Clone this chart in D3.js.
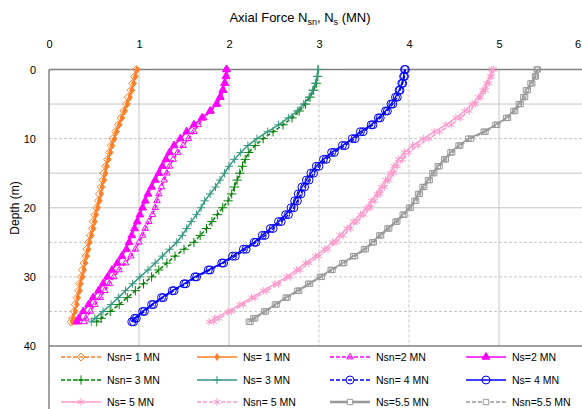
<!DOCTYPE html>
<html>
<head>
<meta charset="utf-8">
<script src="https://cdn.jsdelivr.net/npm/d3@7"></script>
<style>
  body { margin: 0; background: #fff; }
  text { font-family: "Liberation Sans", Arial, sans-serif; fill: #000; }
</style>
</head>
<body>
<div id="chart"></div>
<script>
// depth (m) of every computed point
var depths = [0,1,2,3,4,5,6,7,8,9,10,11,12,13,14,15,16,17,18,19,20,21,22,23,24,25,26,27,28,29,30,31,32,33,34,35,36,36.5];

// axial force (MN) at each depth
var nsn1 = [0.97,0.95,0.93,0.91,0.88,0.86,0.83,0.80,0.77,0.74,0.71,0.69,0.67,0.65,0.63,0.61,0.60,0.58,0.56,0.55,0.53,0.51,0.49,0.48,0.46,0.44,0.42,0.41,0.39,0.37,0.36,0.34,0.33,0.31,0.29,0.28,0.26,0.245];
var ns1  = [0.98,0.96,0.94,0.92,0.90,0.87,0.84,0.81,0.78,0.75,0.73,0.70,0.68,0.66,0.64,0.63,0.61,0.59,0.58,0.56,0.54,0.52,0.51,0.49,0.47,0.45,0.44,0.42,0.40,0.39,0.37,0.35,0.34,0.32,0.31,0.29,0.27,0.26];
var nsn2 = [1.98,1.975,1.96,1.94,1.91,1.87,1.80,1.72,1.66,1.61,1.55,1.49,1.43,1.38,1.34,1.31,1.28,1.25,1.22,1.20,1.18,1.15,1.11,1.07,1.04,1.00,0.96,0.91,0.85,0.78,0.72,0.67,0.62,0.57,0.51,0.46,0.41,0.39];
var ns2  = [1.97,1.965,1.95,1.93,1.90,1.86,1.79,1.70,1.61,1.53,1.46,1.39,1.34,1.30,1.26,1.22,1.18,1.14,1.10,1.07,1.04,1.01,0.98,0.95,0.92,0.89,0.86,0.81,0.76,0.70,0.65,0.60,0.55,0.49,0.44,0.38,0.33,0.31];
var nsn3 = [2.99,2.985,2.97,2.94,2.90,2.85,2.78,2.70,2.60,2.49,2.38,2.29,2.22,2.18,2.15,2.12,2.09,2.06,2.03,1.99,1.93,1.87,1.81,1.75,1.68,1.61,1.50,1.40,1.31,1.22,1.14,1.05,0.96,0.87,0.78,0.68,0.58,0.53];
var ns3  = [2.99,2.98,2.96,2.93,2.89,2.83,2.76,2.66,2.55,2.43,2.31,2.21,2.13,2.06,2.00,1.95,1.90,1.85,1.79,1.73,1.69,1.64,1.58,1.53,1.48,1.42,1.34,1.26,1.18,1.10,1.01,0.93,0.85,0.77,0.69,0.60,0.51,0.47];
var nsn4 = [3.96,3.95,3.93,3.90,3.87,3.82,3.76,3.68,3.60,3.49,3.40,3.29,3.17,3.08,3.00,2.94,2.89,2.84,2.80,2.76,2.72,2.66,2.58,2.49,2.40,2.30,2.19,2.07,1.94,1.79,1.64,1.52,1.39,1.27,1.16,1.06,0.97,0.94];
var ns4  = [3.95,3.94,3.92,3.89,3.85,3.80,3.74,3.66,3.58,3.46,3.37,3.26,3.14,3.05,2.97,2.91,2.86,2.81,2.77,2.73,2.69,2.63,2.55,2.46,2.37,2.28,2.16,2.04,1.92,1.77,1.62,1.50,1.37,1.25,1.14,1.04,0.95,0.92];
var ns5  = [4.92,4.90,4.86,4.82,4.77,4.70,4.62,4.52,4.41,4.28,4.16,4.04,3.95,3.88,3.83,3.79,3.74,3.69,3.64,3.58,3.53,3.46,3.38,3.31,3.23,3.15,3.06,2.96,2.85,2.75,2.64,2.51,2.38,2.25,2.12,1.99,1.84,1.78];
var nsn5 = [4.94,4.92,4.89,4.85,4.80,4.74,4.67,4.57,4.47,4.34,4.22,4.10,4.00,3.93,3.87,3.83,3.78,3.73,3.68,3.62,3.57,3.50,3.42,3.35,3.27,3.19,3.10,3.00,2.89,2.79,2.68,2.55,2.42,2.29,2.16,2.03,1.89,1.83];
var ns55  = [5.42,5.40,5.35,5.30,5.27,5.22,5.16,5.08,4.96,4.83,4.66,4.55,4.46,4.39,4.32,4.26,4.21,4.15,4.10,4.06,4.00,3.93,3.85,3.76,3.67,3.59,3.50,3.38,3.26,3.13,3.01,2.88,2.76,2.63,2.51,2.39,2.27,2.22];
var nsn55 = [5.43,5.41,5.37,5.32,5.29,5.24,5.18,5.10,4.98,4.85,4.69,4.57,4.48,4.41,4.34,4.28,4.23,4.17,4.12,4.08,4.02,3.95,3.87,3.78,3.69,3.61,3.52,3.40,3.28,3.15,3.03,2.90,2.78,2.65,2.53,2.41,2.29,2.24];

var forceTicks = [0,1,2,3,4,5];
var depthTicks = [0,10,20,30,40];

var series = [
  {name:"Nsn= 1 MN",   vals:nsn1,  color:"#ff7f27", dash:true,  sym:d3.symbolDiamond2,  size:40, fill:false},
  {name:"Ns= 1 MN",    vals:ns1,   color:"#ff7f27", dash:false, sym:d3.symbolDiamond,   size:14, fill:true},
  {name:"Nsn=2 MN",    vals:nsn2,  color:"#ff00ff", dash:true,  sym:d3.symbolTriangle2, size:30, fill:false},
  {name:"Ns=2 MN",     vals:ns2,   color:"#ff00ff", dash:false, sym:d3.symbolTriangle,  size:26, fill:true},
  {name:"Nsn= 3 MN",   vals:nsn3,  color:"#008000", dash:true,  sym:d3.symbolPlus,      size:30, fill:false},
  {name:"Ns= 3 MN",    vals:ns3,   color:"#339980", dash:false, sym:d3.symbolPlus,      size:24, fill:false},
  {name:"Nsn= 4 MN",   vals:nsn4,  color:"#0000ff", dash:true,  sym:d3.symbolCircle,    size:50, fill:false},
  {name:"Ns= 4 MN",    vals:ns4,   color:"#0000ff", dash:false, sym:d3.symbolCircle,    size:50, fill:false},
  {name:"Ns= 5 MN",    vals:ns5,   color:"#ff99cc", dash:false, sym:d3.symbolAsterisk,  size:40, fill:false},
  {name:"Nsn= 5 MN",   vals:nsn5,  color:"#ff99cc", dash:true,  sym:d3.symbolAsterisk,  size:40, fill:false},
  {name:"Ns=5.5 MN",   vals:ns55,  color:"#999999", dash:false, sym:d3.symbolSquare2,   size:36, fill:false},
  {name:"Nsn=5.5 MN",  vals:nsn55, color:"#999999", dash:true,  sym:d3.symbolSquare2,   size:36, fill:false}
];

var w = 582, h = 409;
var svg = d3.select("#chart").append("svg").attr("width", w).attr("height", h);

var x = d3.scaleLinear().domain([0,6]).range([49,589]);
var y = d3.scaleLinear().domain([0,40]).range([69.5,346]);

// grid
var vDash = {1:false,2:false,3:true,4:true,5:false};
var hDash = {5:false,10:true,15:false,20:false,25:true,30:true,35:true};
svg.append("g").selectAll("line").data([1,2,3,4,5]).enter().append("line")
  .attr("x1", function(d){ return x(d); }).attr("x2", function(d){ return x(d); })
  .attr("y1", y(0)).attr("y2", y(40))
  .attr("stroke", "#c4c4c4").attr("stroke-width", 1)
  .attr("stroke-dasharray", function(d){ return vDash[d] ? "3,2" : null; });
svg.append("g").selectAll("line").data([5,10,15,20,25,30,35]).enter().append("line")
  .attr("x1", x(0)).attr("x2", w)
  .attr("y1", function(d){ return y(d); }).attr("y2", function(d){ return y(d); })
  .attr("stroke", "#c4c4c4").attr("stroke-width", 1)
  .attr("stroke-dasharray", function(d){ return hDash[d] ? "3,2" : null; });

// frame
svg.append("line").attr("x1", x(0)).attr("x2", w).attr("y1", y(0)).attr("y2", y(0)).attr("stroke", "#808080").attr("stroke-width", 1.5);
svg.append("line").attr("x1", x(0)).attr("x2", w).attr("y1", y(40)).attr("y2", y(40)).attr("stroke", "#808080").attr("stroke-width", 1.5);
svg.append("line").attr("x1", x(0)).attr("x2", x(0)).attr("y1", y(0)).attr("y2", h).attr("stroke", "#808080").attr("stroke-width", 1.5);

// axes
var xAxis = d3.axisTop(x).tickValues(forceTicks).tickFormat(d3.format("d")).tickSize(0).tickPadding(0);
svg.append("g").attr("transform", "translate(0,48)").call(xAxis)
  .call(function(g){ g.select(".domain").remove(); })
  .selectAll("text").style("font-size", "11px").style("font-family", "Liberation Sans, Arial, sans-serif");
// last label sits on the cut right edge
svg.append("text").attr("x", 581).attr("y", 48).attr("text-anchor", "end").style("font-size", "11px").text("6");

var yAxis = d3.axisLeft(y).tickValues(depthTicks).tickFormat(d3.format("d")).tickSize(0).tickPadding(0);
svg.append("g").attr("transform", "translate(36,0)").call(yAxis)
  .call(function(g){ g.select(".domain").remove(); })
  .selectAll("text").style("font-size", "11px").style("font-family", "Liberation Sans, Arial, sans-serif");

// titles
var t = svg.append("text").attr("x", 300).attr("y", 22).attr("text-anchor", "middle").style("font-size", "13px");
t.append("tspan").text("Axial Force N");
t.append("tspan").attr("dy", 3).style("font-size", "9px").text("sn");
t.append("tspan").attr("dy", -3).text(", N");
t.append("tspan").attr("dy", 3).style("font-size", "9px").text("s");
t.append("tspan").attr("dy", -3).text(" (MN)");

svg.append("text").attr("transform", "translate(19,208) rotate(-90)")
  .attr("text-anchor", "middle").style("font-size", "12px").text("Depth (m)");

// curves
var line = d3.line()
  .x(function(d){ return x(d[1]); })
  .y(function(d){ return y(d[0]); });

series.forEach(function(s) {
  var pts = depths.map(function(d, i){ return [d, s.vals[i]]; });
  var g = svg.append("g");
  g.append("path").datum(pts).attr("d", line)
    .attr("fill", "none").attr("stroke", s.color).attr("stroke-width", 1.5)
    .attr("stroke-dasharray", s.dash ? "4,2" : null);
  g.selectAll("path.m").data(pts).enter().append("path").attr("class", "m")
    .attr("d", d3.symbol().type(s.sym).size(s.size))
    .attr("transform", function(d){ return "translate(" + x(d[1]) + "," + y(d[0]) + ")"; })
    .attr("fill", s.fill ? s.color : "none")
    .attr("stroke", s.color).attr("stroke-width", 1);
});

// legend
var colX = [61, 197, 330, 466];
var rowY = [357, 380, 402];
series.forEach(function(s, i) {
  var lx = colX[i % 4], ly = rowY[Math.floor(i / 4)];
  var g = svg.append("g").attr("transform", "translate(" + lx + "," + ly + ")");
  g.append("line").attr("x1", 0).attr("x2", 40).attr("y1", 0).attr("y2", 0)
    .attr("stroke", s.color).attr("stroke-width", s.name.indexOf("5.5") > 0 && !s.dash ? 2.5 : 1.5)
    .attr("stroke-dasharray", s.dash ? "4,2" : null);
  g.append("path").attr("d", d3.symbol().type(s.sym).size(s.size))
    .attr("transform", "translate(20,0)")
    .attr("fill", s.fill ? s.color : (s.sym === d3.symbolSquare2 ? "#fff" : "none"))
    .attr("stroke", s.color).attr("stroke-width", 1);
  g.append("text").attr("x", 46).attr("y", 4).style("font-size", "10.5px").text(s.name);
});
</script>
</body>
</html>
